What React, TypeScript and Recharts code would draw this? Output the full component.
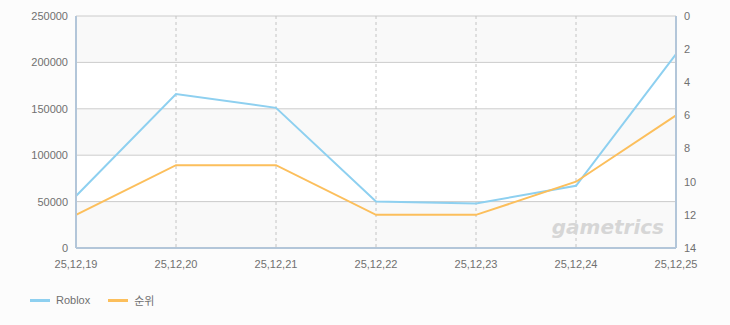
import React from 'react';
import { LineChart, Line, XAxis, YAxis, CartesianGrid } from 'recharts';

const categories = ['25.12.19', '25.12.20', '25.12.21', '25.12.22', '25.12.23', '25.12.24', '25.12.25'];
const robloxValues = [56000, 166000, 151000, 50000, 48000, 67000, 209000];
const rankValues = [12, 9, 9, 12, 12, 10, 6];
const leftTicks = [0, 50000, 100000, 150000, 200000, 250000];
const rightTicks = [0, 2, 4, 6, 8, 10, 12, 14];

const data = categories.map((c, i) => ({ date: c, roblox: robloxValues[i], rank: rankValues[i] }));

const FONT = '"Liberation Sans", "Noto Sans CJK KR", sans-serif';
const tickStyle = { fill: '#707070', fontSize: 11, fontFamily: FONT };

export default function App() {
  return (
    <div style={{ position: 'absolute', left: 0, top: 0, width: 730, height: 325, background: '#fcfcfc', fontFamily: FONT }}>
      <LineChart width={730} height={325} data={data} margin={{ top: 16, right: 0, left: 0, bottom: 52 }}>
        <CartesianGrid
          yAxisId="left"
          stroke="#cccccc"
          vertical={false}
          horizontalFill={['#f9f9f9', '#ffffff']}
          fillOpacity={1}
        />
        <CartesianGrid yAxisId="left" horizontal={false} stroke="#c4c4c4" strokeDasharray="3 3" />
        <XAxis
          dataKey="date"
          interval={0}
          tickLine={false}
          axisLine={{ stroke: '#b3c6d9', strokeWidth: 2 }}
          tick={tickStyle}
          tickFormatter={(v: string) => v.replace(/\./g, ',')}
          tickMargin={6}
          height={25}
        />
        <YAxis
          yAxisId="left"
          orientation="left"
          domain={[0, 250000]}
          ticks={leftTicks}
          width={76}
          tickLine={false}
          axisLine={{ stroke: '#b3c6d9', strokeWidth: 2 }}
          tick={tickStyle}
          tickMargin={2}
        />
        <YAxis
          yAxisId="right"
          orientation="right"
          domain={[0, 14]}
          ticks={rightTicks}
          reversed
          width={54}
          tickLine={false}
          axisLine={{ stroke: '#b3c6d9', strokeWidth: 2 }}
          tick={tickStyle}
          tickMargin={2}
        />
        <Line
          yAxisId="left"
          type="linear"
          dataKey="roblox"
          name="Roblox"
          stroke="#8ed0f0"
          strokeWidth={2}
          dot={false}
          isAnimationActive={false}
        />
        <Line
          yAxisId="right"
          type="linear"
          dataKey="rank"
          name="순위"
          stroke="#fcbf5c"
          strokeWidth={2}
          dot={false}
          isAnimationActive={false}
        />
        <text
          x={664}
          y={234}
          textAnchor="end"
          fontFamily="DejaVu Sans, sans-serif"
          fontStyle="italic"
          fontWeight="bold"
          fontSize={20}
          fill="#d6d6d6"
        >
          gametrics
        </text>
      </LineChart>
      <div style={{ position: 'absolute', left: 30, top: 292, display: 'flex', alignItems: 'center', fontSize: 11, color: '#707070' }}>
        <span style={{ display: 'inline-block', width: 20, height: 3, background: '#8ed0f0', marginRight: 6 }} />
        <span style={{ marginRight: 18 }}>Roblox</span>
        <span style={{ display: 'inline-block', width: 20, height: 3, background: '#fcbf5c', marginRight: 6 }} />
        <span>순위</span>
      </div>
    </div>
  );
}
